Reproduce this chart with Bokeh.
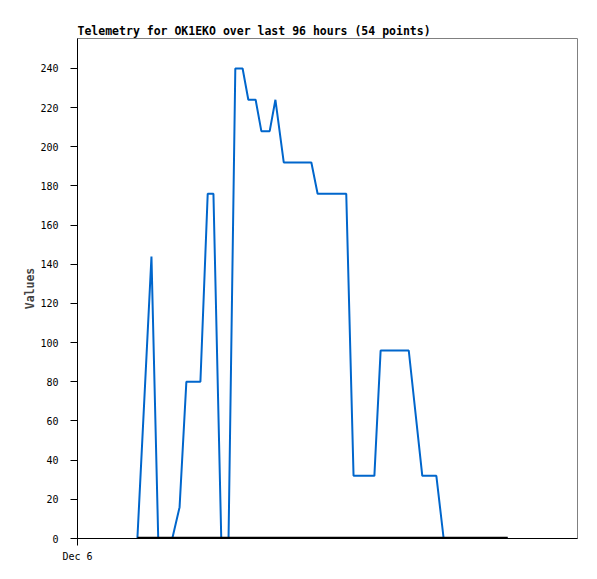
from bokeh.plotting import figure
from bokeh.models import Range1d, FixedTicker
from bokeh.embed import file_html
from bokeh.resources import INLINE

# hours since Dec 6 00:00 (x range covers 96 hours)
hours = [11.5, 14.2, 15.5, 18.2, 19.6, 20.9, 23.6, 25.0, 26.1, 27.6, 29.0, 30.3,
         31.7, 32.8, 34.2, 35.3, 36.9, 38.0, 39.6, 44.9, 46.1, 51.6, 53.0, 57.0,
         58.2, 63.6, 66.2, 68.9, 70.3, 82.6]
values = [0, 144, 0, 0, 16, 80, 80, 176, 176, 0, 0, 240,
          240, 224, 224, 208, 208, 224, 192, 192, 176, 176, 32, 32,
          96, 96, 32, 32, 0, 0]
baseline = [0] * len(hours)
y_ticks = [0, 20, 40, 60, 80, 100, 120, 140, 160, 180, 200, 220, 240]
x_tick_labels = {0: "Dec 6"}

FONT = "DejaVu Sans Mono"

p = figure(width=589, height=571, output_backend="svg", toolbar_location=None,
           x_range=Range1d(0, 96), y_range=Range1d(0, 255.3),
           min_border_left=77, min_border_right=12, min_border_top=38,
           min_border_bottom=33)

p.title.text = "Telemetry for OK1EKO over last 96 hours (54 points)"
p.title.text_font = FONT
p.title.text_font_size = "11.5px"
p.title.text_font_style = "bold"
p.title.text_color = "black"
p.title.offset = 0
p.title.standoff = 1

p.grid.visible = False
p.background_fill_color = "white"
p.border_fill_color = "white"
p.outline_line_color = "#808080"
p.outline_line_width = 1

p.line(hours, values, line_color="#0066cc", line_width=2)
p.line(hours, baseline, line_color="black", line_width=3.5)

ya = p.yaxis[0]
ya.ticker = FixedTicker(ticks=y_ticks)
ya.minor_tick_line_color = None
ya.major_tick_in = 0
ya.major_tick_out = 7
ya.major_label_standoff = 12
ya.major_label_text_font = FONT
ya.major_label_text_font_size = "10px"
ya.major_label_text_color = "black"
ya.axis_label = "Values"
ya.axis_label_text_font = FONT
ya.axis_label_text_font_size = "11.5px"
ya.axis_label_text_font_style = "bold"
ya.axis_label_standoff = 0
ya.axis_line_color = "black"

xa = p.xaxis[0]
xa.ticker = FixedTicker(ticks=list(x_tick_labels.keys()))
xa.major_label_overrides = x_tick_labels
xa.minor_tick_line_color = None
xa.major_tick_in = 0
xa.major_tick_out = 7
xa.major_label_standoff = 5
xa.major_label_text_font = FONT
xa.major_label_text_font_size = "10px"
xa.major_label_text_color = "black"
xa.axis_line_color = "black"

open("out.html", "w").write(file_html(p, INLINE))
